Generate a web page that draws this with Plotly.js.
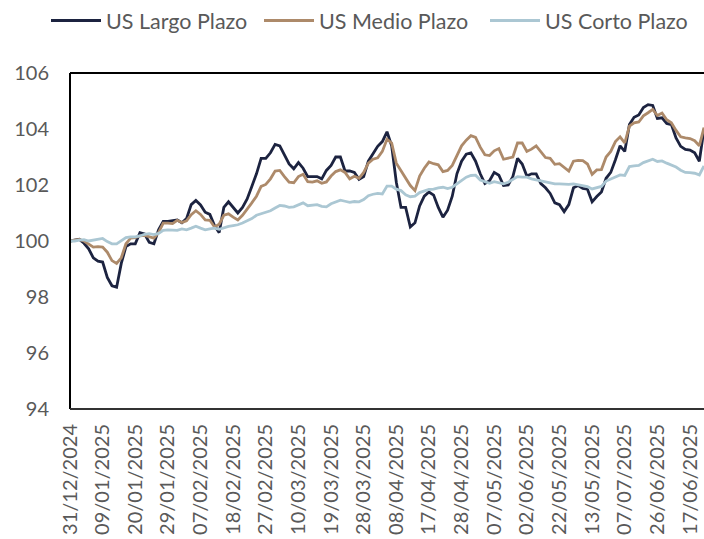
<!DOCTYPE html>
<html>
<head>
<meta charset="utf-8">
<script src="https://cdn.plot.ly/plotly-3.0.1.min.js"></script>
<style>html,body{margin:0;padding:0;background:#fff;}#chart{width:704px;height:539px;}</style>
</head>
<body>
<div id="chart"></div>
<script>
const tickLabels = ["31/12/2024","09/01/2025","20/01/2025","29/01/2025","07/02/2025","18/02/2025","27/02/2025","10/03/2025","19/03/2025","28/03/2025","08/04/2025","17/04/2025","28/04/2025","07/05/2025","02/06/2025","22/05/2025","13/05/2025","07/07/2025","26/06/2025","17/06/2025"];
const tickStep = 7;

const largo = [100.0,100.02,100.06,99.92,99.72,99.4,99.28,99.25,98.7,98.4,
98.35,99.2,99.8,99.9,99.9,100.3,100.25,99.95,99.9,100.4,
100.7,100.7,100.72,100.75,100.65,100.8,101.3,101.45,101.29,101.03,
100.95,100.55,100.3,101.2,101.4,101.2,101.0,101.2,101.5,101.95,
102.4,102.95,102.95,103.15,103.45,103.4,103.05,102.75,102.58,102.8,
102.6,102.3,102.3,102.3,102.22,102.52,102.7,103.0,103.0,102.5,
102.5,102.45,102.2,102.3,102.85,103.1,103.38,103.55,103.9,103.4,
102.1,101.2,101.2,100.5,100.65,101.25,101.6,101.75,101.64,101.2,
100.85,101.1,101.6,102.4,102.85,103.1,103.15,102.85,102.4,102.05,
102.15,102.45,102.35,101.98,102.0,102.3,102.95,102.75,102.32,102.4,
102.4,102.05,101.9,101.7,101.36,101.3,101.05,101.3,101.9,101.98,
101.88,101.85,101.4,101.59,101.75,102.24,102.45,102.9,103.4,103.2,
104.16,104.42,104.5,104.77,104.87,104.84,104.38,104.4,104.2,104.16,
103.68,103.38,103.27,103.25,103.15,102.85,104.0];

const medio = [100.0,100.02,100.06,100.0,99.9,99.78,99.8,99.78,99.6,99.3,
99.2,99.4,99.9,100.1,100.12,100.18,100.2,100.14,100.1,100.3,
100.64,100.64,100.62,100.74,100.66,100.72,100.94,101.08,100.95,100.75,
100.74,100.5,100.6,100.92,100.97,100.85,100.75,100.92,101.12,101.36,
101.6,101.95,102.02,102.22,102.5,102.52,102.3,102.1,102.08,102.3,
102.38,102.12,102.1,102.15,102.06,102.11,102.32,102.48,102.54,102.45,
102.22,102.31,102.24,102.45,102.78,102.92,102.97,103.2,103.63,103.5,
102.78,102.52,102.28,101.98,101.8,102.32,102.6,102.82,102.76,102.72,
102.48,102.52,102.7,103.05,103.4,103.6,103.76,103.7,103.35,103.08,
103.05,103.22,103.3,102.92,102.97,103.0,103.5,103.5,103.2,103.28,
103.4,103.17,102.98,102.95,102.74,102.76,102.64,102.5,102.85,102.88,
102.87,102.75,102.38,102.54,102.55,103.0,103.2,103.55,103.72,103.5,
104.1,104.22,104.25,104.47,104.58,104.7,104.48,104.57,104.33,104.22,
103.95,103.72,103.68,103.66,103.58,103.4,104.05];

const corto = [100.0,100.0,100.03,100.05,100.0,100.03,100.06,100.09,99.98,99.9,
99.9,100.0,100.12,100.15,100.15,100.18,100.24,100.26,100.23,100.27,
100.38,100.4,100.39,100.38,100.43,100.4,100.46,100.53,100.46,100.4,
100.43,100.46,100.42,100.48,100.52,100.55,100.58,100.64,100.71,100.8,
100.92,100.98,101.02,101.08,101.18,101.27,101.25,101.2,101.22,101.3,
101.36,101.26,101.27,101.3,101.24,101.22,101.33,101.4,101.46,101.42,
101.38,101.41,101.4,101.48,101.62,101.67,101.7,101.68,101.96,101.96,
101.85,101.8,101.65,101.58,101.6,101.73,101.78,101.84,101.85,101.9,
101.92,101.87,101.92,102.05,102.16,102.28,102.34,102.35,102.18,102.12,
102.06,102.12,102.08,102.04,102.1,102.2,102.3,102.28,102.28,102.22,
102.18,102.14,102.1,102.07,102.04,102.04,102.02,102.02,102.04,102.0,
101.98,101.94,101.86,101.9,101.95,102.14,102.22,102.3,102.36,102.34,
102.66,102.68,102.7,102.8,102.85,102.92,102.84,102.86,102.78,102.72,
102.64,102.53,102.45,102.44,102.42,102.36,102.68];

const seriesNames = ["US Largo Plazo","US Medio Plazo","US Corto Plazo"];
const seriesColors = ["#1c2340","#ad8a6a","#abc7d3"];
const seriesData = [largo, medio, corto];
const legendIds = ['legend', 'legend2', 'legend3'];

const idx = largo.map((_, i) => i);
const traces = seriesData.map((d, k) => ({
  x: idx, y: d, type: 'scatter', mode: 'lines', name: seriesNames[k],
  legend: legendIds[k],
  line: {color: seriesColors[k], width: 2.8}
}));

const tickvals = tickLabels.map((_, i) => i * tickStep);
const fontFam = "Lato, 'Liberation Sans Narrow', Carlito, sans-serif";

function legendAt(px) {
  return {orientation: 'h', xref: 'container', x: px / 704, xanchor: 'left',
    yref: 'container', y: 1.0, yanchor: 'top', itemwidth: 50,
    font: {family: fontFam, size: 21.5, color: '#595959'}, bgcolor: 'rgba(0,0,0,0)'};
}

const layout = {
  width: 704, height: 539,
  margin: {l: 70, r: 0, t: 73, b: 130},
  paper_bgcolor: '#ffffff', plot_bgcolor: '#ffffff',
  showlegend: true,
  legend: legendAt(46),
  legend2: legendAt(259),
  legend3: legendAt(485),
  xaxis: {range: [0, 136], tickmode: 'array', tickvals: tickvals, ticktext: tickLabels,
    tickangle: -90, showgrid: false, zeroline: false, showline: false, ticks: '',
    ticklabelstandoff: 10,
    tickfont: {family: fontFam, size: 20, color: '#595959'}},
  yaxis: {range: [94, 106], dtick: 2, tick0: 94, showgrid: false, zeroline: false, showline: false,
    ticks: '', ticklabelstandoff: 20,
    tickfont: {family: fontFam, size: 20, color: '#595959'}},
  shapes: [
    {type: 'line', xref: 'paper', yref: 'paper', x0: 0, x1: 0, y0: 0, y1: 1, line: {color: '#000000', width: 2}},
    {type: 'line', xref: 'paper', yref: 'paper', x0: 0, x1: 1, y0: 1, y1: 1, line: {color: '#000000', width: 2}},
    {type: 'line', xref: 'paper', yref: 'paper', x0: 0, x1: 1, y0: 0, y1: 0, line: {color: '#333333', width: 2}}
  ]
};

Plotly.newPlot('chart', traces, layout, {displayModeBar: false, staticPlot: true});
</script>
</body>
</html>
